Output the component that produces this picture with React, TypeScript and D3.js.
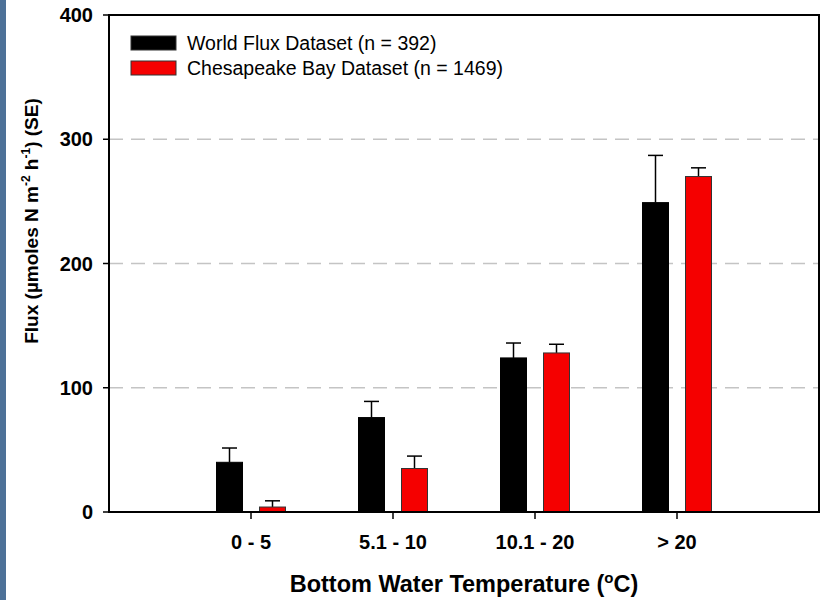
import React from "react";
import * as d3 from "d3";

const categories = ["0 - 5", "5.1 - 10", "10.1 - 20", "> 20"];
const worldValues = [40, 76, 124, 249];
const worldErrors = [11.5, 13, 12, 38];
const chesValues = [4, 35, 128, 270];
const chesErrors = [5, 10, 7, 7];
const yTicks = [0, 100, 200, 300, 400];
const gridValues = [100, 200, 300];
const seriesNames = ["World Flux Dataset (n = 392)", "Chesapeake Bay Dataset (n = 1469)"];
const seriesColors = ["#000000", "#f50000"];

const W = 821;
const H = 600;
const left = 109, right = 819, top = 15, bottom = 512;

export default function App() {
  const x = d3.scaleLinear().domain([0, categories.length + 1]).range([left, right]);
  const y = d3.scaleLinear().domain([0, 400]).range([bottom, top]);
  const barW = 26;
  const offset = 21.5;
  const capW = 15;
  const font = "'Liberation Sans', Arial, sans-serif";

  const series = [
    { values: worldValues, errors: worldErrors, color: seriesColors[0], stroke: "#000", dx: -offset },
    { values: chesValues, errors: chesErrors, color: seriesColors[1], stroke: "#333", dx: offset },
  ];

  return (
    <svg width={W} height={H} style={{ position: "absolute", left: 0, top: 0, background: "#fff" }} fontFamily={font}>
      <rect x={0} y={0} width={6} height={H} fill="#4d7198" />
      {gridValues.map((v) => (
        <line key={v} x1={left} x2={right} y1={y(v)} y2={y(v)} stroke="#c4c4c4" strokeWidth={1.5} strokeDasharray="14,8" />
      ))}
      {series.map((s, si) =>
        s.values.map((v, i) => {
          const cx = x(i + 1) + s.dx;
          const yTop = y(v);
          const yErr = y(v + s.errors[i]);
          return (
            <g key={`${si}-${i}`}>
              <line x1={cx} x2={cx} y1={yTop} y2={yErr} stroke="#000" strokeWidth={1.5} />
              <line x1={cx - capW / 2} x2={cx + capW / 2} y1={yErr} y2={yErr} stroke="#000" strokeWidth={1.5} />
              <rect x={cx - barW / 2} y={yTop} width={barW} height={bottom - yTop} fill={s.color} stroke={s.stroke} strokeWidth={1} />
            </g>
          );
        })
      )}
      <rect x={left} y={top} width={right - left} height={bottom - top} fill="none" stroke="#000" strokeWidth={2} />
      {yTicks.map((t) => (
        <g key={t}>
          <line x1={left - 6} x2={left} y1={y(t)} y2={y(t)} stroke="#000" strokeWidth={1.5} />
          <text x={left - 16} y={y(t)} dy="0.35em" textAnchor="end" fontSize={20} fontWeight="bold">{t}</text>
        </g>
      ))}
      {categories.map((c, i) => (
        <g key={c}>
          <line x1={x(i + 1)} x2={x(i + 1)} y1={bottom} y2={bottom + 7} stroke="#000" strokeWidth={1.5} />
          <text x={x(i + 1)} y={bottom + 37} textAnchor="middle" fontSize={20} fontWeight="bold">{c}</text>
        </g>
      ))}
      <text x={(left + right) / 2} y={592} textAnchor="middle" fontSize={23.5} fontWeight="bold">
        Bottom Water Temperature (<tspan dy={-9} fontSize={15}>o</tspan><tspan dy={9}>C)</tspan>
      </text>
      <text transform="translate(38,221) rotate(-90)" textAnchor="middle" fontSize={19} fontWeight="bold">
        Flux (µmoles N m<tspan dy={-8} fontSize={12}>-2</tspan><tspan dy={8}> h</tspan><tspan dy={-8} fontSize={12}>-1</tspan><tspan dy={8}>) (SE)</tspan>
      </text>
      {seriesNames.map((n, i) => (
        <g key={n}>
          <rect x={131} y={36 + i * 25} width={45} height={14} fill={seriesColors[i]} stroke="#333" strokeWidth={1} />
          <text x={187} y={43 + i * 25} dy="0.35em" fontSize={19.5}>{n}</text>
        </g>
      ))}
    </svg>
  );
}
